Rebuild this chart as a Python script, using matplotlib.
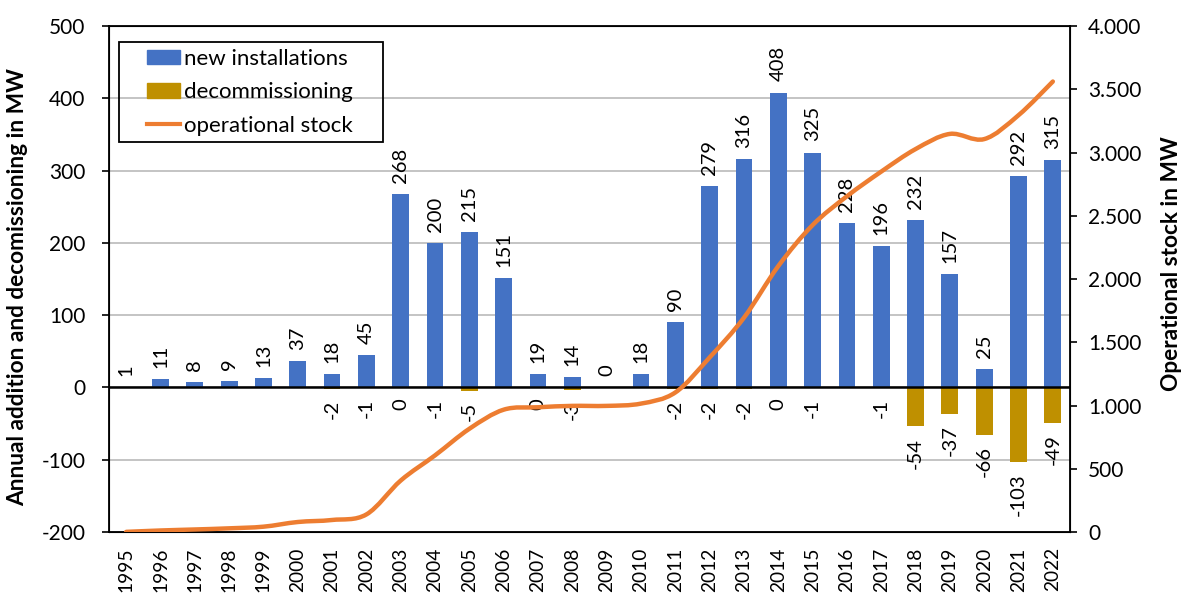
import numpy as np
import matplotlib.pyplot as plt
from matplotlib.path import Path
from matplotlib.patches import PathPatch, Patch, Rectangle
from matplotlib.lines import Line2D
from matplotlib.ticker import FuncFormatter

plt.rcParams['font.family'] = ['Lato', 'DejaVu Sans']
plt.rcParams['axes.unicode_minus'] = False

years = [str(y) for y in range(1995, 2023)]
new_inst = [1, 11, 8, 9, 13, 37, 18, 45, 268, 200, 215, 151, 19, 14, 0, 18,
            90, 279, 316, 408, 325, 228, 196, 232, 157, 25, 292, 315]
decom = [None, None, None, None, None, None, -2, -1, 0, -1, -5, None, 0, -3,
         None, None, -2, -2, -2, 0, -1, None, -1, -54, -37, -66, -103, -49]
stock = [1, 12, 20, 29, 42, 79, 95, 139, 407, 606, 816, 967, 986, 997, 997,
         1015, 1103, 1380, 1694, 2102, 2426, 2654, 2849, 3027, 3147, 3106,
         3295, 3561]

blue = '#4472C4'
gold = '#BF9000'
orange = '#ED7D31'

W, H = 1186, 596
fig = plt.figure(figsize=(W / 100, H / 100), dpi=100)
ax = fig.add_axes([109 / W, (H - 532) / H, 961 / W, 506 / H])

x = np.arange(len(years))
bw = 0.49
ax.bar(x, new_inst, width=bw, color=blue, zorder=2)
dx = [i for i, v in enumerate(decom) if v is not None]
dv = [decom[i] for i in dx]
ax.bar(dx, dv, width=bw, color=gold, zorder=2)

ax.set_ylim(-200, 500)
ax.set_xlim(-0.5, len(years) - 0.5)
ax.set_yticks(range(-200, 501, 100))
ax.yaxis.grid(True, color='#BFBFBF', lw=1.3)
ax.set_axisbelow(True)
ax.axhline(0, color='black', lw=1.8, zorder=3)
ax.set_xticks(x)
ax.set_xticklabels(years, rotation=90, fontsize=13.8)
ax.tick_params(axis='x', length=0, pad=11)
ax.tick_params(axis='y', labelsize=15, length=5, width=1.2, direction='out', pad=12)
for s in ax.spines.values():
    s.set_linewidth(1.3)

# value labels
for i, v in enumerate(new_inst):
    ax.annotate(str(v), (i, v), xytext=(0, 8), textcoords='offset points',
                rotation=90, ha='center', va='bottom', fontsize=14.5)
for i, v in zip(dx, dv):
    ax.annotate(str(v), (i, v), xytext=(0, -8), textcoords='offset points',
                rotation=90, ha='center', va='top', fontsize=14.5)

ax.set_ylabel('Annual addition and decomissioning in MW', fontsize=16.3,
              fontweight='bold')
ax.yaxis.set_label_coords(-0.084, 0.485)

# operational stock (smoothed like the spreadsheet line)
ax2 = ax.twinx()
ax2.set_ylim(0, 4000)
ax2.set_yticks(range(0, 4001, 500))
ax2.yaxis.set_major_formatter(FuncFormatter(lambda v, p: f'{int(v):,}'.replace(',', '.')))
ax2.tick_params(axis='y', labelsize=15, length=5, width=1.2, direction='out', pad=8)
ax2.set_ylabel('Operational stock in MW', fontsize=16.3, fontweight='bold')
ax2.yaxis.set_label_coords(1.095, 0.531)

pts = np.column_stack([x, stock]).astype(float)
verts = [pts[0]]
codes = [Path.MOVETO]
n = len(pts)
for i in range(n - 1):
    p0 = pts[max(i - 1, 0)]
    p1 = pts[i]
    p2 = pts[i + 1]
    p3 = pts[min(i + 2, n - 1)]
    c1 = p1 + (p2 - p0) / 6.0
    c2 = p2 - (p3 - p1) / 6.0
    verts += [c1, c2, p2]
    codes += [Path.CURVE4] * 3
ax2.add_patch(PathPatch(Path(verts, codes), fill=False, edgecolor=orange,
                        lw=3.2, capstyle='round', zorder=4))

# legend with a square frame
handles = [Patch(color=blue, label='new installations'),
           Patch(color=gold, label='decommissioning'),
           Line2D([], [], color=orange, lw=3, label='operational stock')]
ax2.legend(handles=handles, loc='upper left', bbox_to_anchor=(147 / W, 1 - 49 / H),
           bbox_transform=fig.transFigure, fontsize=16, frameon=False,
           handlelength=1.5, handleheight=0.6, handletextpad=0.15,
           borderpad=0, borderaxespad=0, labelspacing=0.6)
fig.patches.append(Rectangle((119 / W, 1 - 142 / H), 264 / W, 100 / H,
                             transform=fig.transFigure, fill=False,
                             edgecolor='black', lw=1.3, zorder=5))

fig.savefig('out.png', dpi=100)
